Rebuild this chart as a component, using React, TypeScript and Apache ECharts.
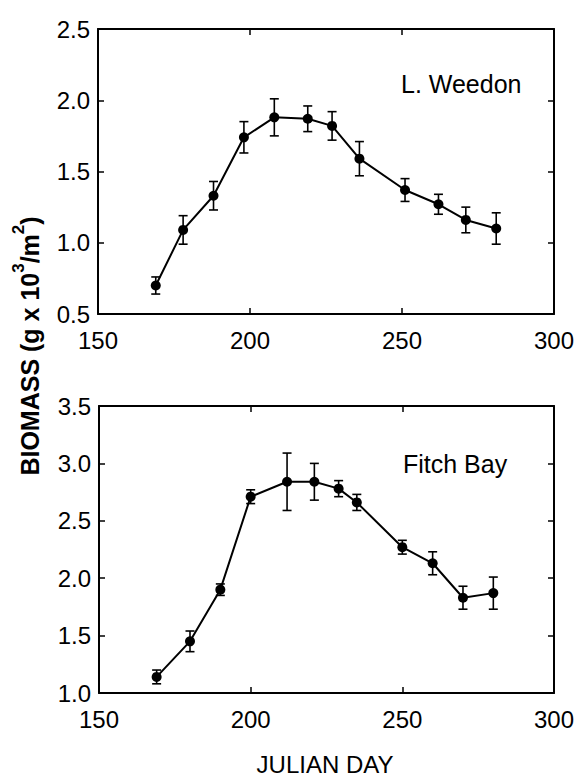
import React, { useEffect, useRef } from "react";
import * as echarts from "echarts";

const weedonDays = [169, 178, 188, 198, 208, 219, 227, 236, 251, 262, 271, 281];
const weedonMean = [0.70, 1.09, 1.33, 1.74, 1.88, 1.87, 1.82, 1.59, 1.37, 1.27, 1.16, 1.10];
const weedonErr = [0.06, 0.10, 0.10, 0.11, 0.13, 0.09, 0.10, 0.12, 0.08, 0.07, 0.09, 0.11];

const fitchDays = [169, 180, 190, 200, 212, 221, 229, 235, 250, 260, 270, 280];
const fitchMean = [1.14, 1.45, 1.90, 2.71, 2.84, 2.84, 2.78, 2.66, 2.27, 2.13, 1.83, 1.87];
const fitchErr = [0.06, 0.09, 0.05, 0.06, 0.25, 0.16, 0.07, 0.07, 0.06, 0.10, 0.10, 0.14];

const xTicks = [150, 200, 250, 300];
const weedonTicks = [0.5, 1.0, 1.5, 2.0, 2.5];
const fitchTicks = [1.0, 1.5, 2.0, 2.5, 3.0, 3.5];

const titles = ["L. Weedon", "Fitch Bay"];
const yTitleParts = ["BIOMASS (g x 10", "3", "/m", "2", ")"];
const xTitle = "JULIAN DAY";

const FONT = "'Liberation Sans', Arial, Helvetica, sans-serif";

export default function App() {
  const ref = useRef<HTMLDivElement>(null);
  useEffect(() => {
    document.body.style.margin = "0";
    if (!ref.current) return;
    const chart = echarts.init(ref.current, null, { renderer: "svg" });

    const mkX = (gridIndex: number, top: boolean) => ({
      type: "value",
      gridIndex,
      position: top ? "top" : "bottom",
      min: xTicks[0],
      max: xTicks[xTicks.length - 1],
      interval: 50,
      axisLine: { show: true, onZero: false, lineStyle: { color: "#000", width: 2 } },
      axisTick: { show: true, inside: true, length: 6, lineStyle: { color: "#000", width: 1.5 } },
      axisLabel: {
        show: !top,
        color: "#000",
        fontSize: 24,
        fontFamily: FONT,
        margin: 14,
      },
      splitLine: { show: false },
    });
    const mkY = (gridIndex: number, right: boolean, ticks: number[]) => ({
      type: "value",
      gridIndex,
      position: right ? "right" : "left",
      min: ticks[0],
      max: ticks[ticks.length - 1],
      interval: 0.5,
      axisLine: { show: true, onZero: false, lineStyle: { color: "#000", width: 2 } },
      axisTick: { show: true, inside: true, length: 6, lineStyle: { color: "#000", width: 1.5 } },
      axisLabel: {
        show: !right,
        color: "#000",
        fontSize: 24,
        fontFamily: FONT,
        margin: 8,
        formatter: (v: number) => v.toFixed(1),
      },
      splitLine: { show: false },
    });

    const errRender = (params: any, api: any) => {
      const x = api.value(0);
      const lo = api.coord([x, api.value(1)]);
      const hi = api.coord([x, api.value(2)]);
      const w = 4.5;
      const style = { stroke: "#000", lineWidth: 1.6, fill: "none" };
      return {
        type: "group",
        children: [
          { type: "line", shape: { x1: lo[0], y1: lo[1], x2: hi[0], y2: hi[1] }, style },
          { type: "line", shape: { x1: lo[0] - w, y1: lo[1], x2: lo[0] + w, y2: lo[1] }, style },
          { type: "line", shape: { x1: hi[0] - w, y1: hi[1], x2: hi[0] + w, y2: hi[1] }, style },
        ],
      };
    };

    const sets = [
      { days: weedonDays, mean: weedonMean, err: weedonErr },
      { days: fitchDays, mean: fitchMean, err: fitchErr },
    ];

    const series: any[] = [];
    sets.forEach((s, i) => {
      series.push({
        type: "custom",
        xAxisIndex: i * 2,
        yAxisIndex: i * 2,
        renderItem: errRender,
        data: s.days.map((d, k) => [d, s.mean[k] - s.err[k], s.mean[k] + s.err[k]]),
        z: 3,
      });
      series.push({
        type: "line",
        xAxisIndex: i * 2,
        yAxisIndex: i * 2,
        data: s.days.map((d, k) => [d, s.mean[k]]),
        symbol: "circle",
        symbolSize: 10,
        itemStyle: { color: "#000" },
        lineStyle: { color: "#000", width: 2 },
        z: 4,
      });
    });

    const yTitleRich =
      `{a|${yTitleParts[0]}}{s|${yTitleParts[1]}}{a|${yTitleParts[2]}}{s|${yTitleParts[3]}}{a|${yTitleParts[4]}}`;

    chart.setOption({
      animation: false,
      backgroundColor: "#fff",
      grid: [
        { left: 98, top: 29, width: 460, height: 285 },
        { left: 99, top: 406, width: 459, height: 287 },
      ],
      xAxis: [mkX(0, false), mkX(0, true), mkX(1, false), mkX(1, true)],
      yAxis: [
        mkY(0, false, weedonTicks),
        mkY(0, true, weedonTicks),
        mkY(1, false, fitchTicks),
        mkY(1, true, fitchTicks),
      ],
      series,
      graphic: [
        {
          type: "text",
          left: 401,
          top: 71,
          style: { text: titles[0], fontSize: 25, fontFamily: FONT, fill: "#000" },
        },
        {
          type: "text",
          left: 403,
          top: 451,
          style: { text: titles[1], fontSize: 25, fontFamily: FONT, fill: "#000" },
        },
        {
          type: "text",
          x: 26,
          y: 346,
          rotation: Math.PI / 2,
          style: {
            text: yTitleRich,
            fontFamily: FONT,
            fill: "#000",
            align: "center",
            verticalAlign: "middle",
            rich: {
              a: { fontSize: 25, fontWeight: "bold", fontFamily: FONT, fill: "#000", lineHeight: 32, verticalAlign: "bottom" },
              s: { fontSize: 17, fontWeight: "bold", fontFamily: FONT, fill: "#000", lineHeight: 32, verticalAlign: "top" },
            },
          },
        },
        {
          type: "text",
          x: 325,
          y: 764,
          style: {
            text: xTitle,
            fontSize: 24,
            fontFamily: FONT,
            fill: "#000",
            align: "center",
            verticalAlign: "middle",
          },
        },
      ],
    });
    return () => chart.dispose();
  }, []);
  return <div ref={ref} style={{ width: 577, height: 778 }} />;
}
